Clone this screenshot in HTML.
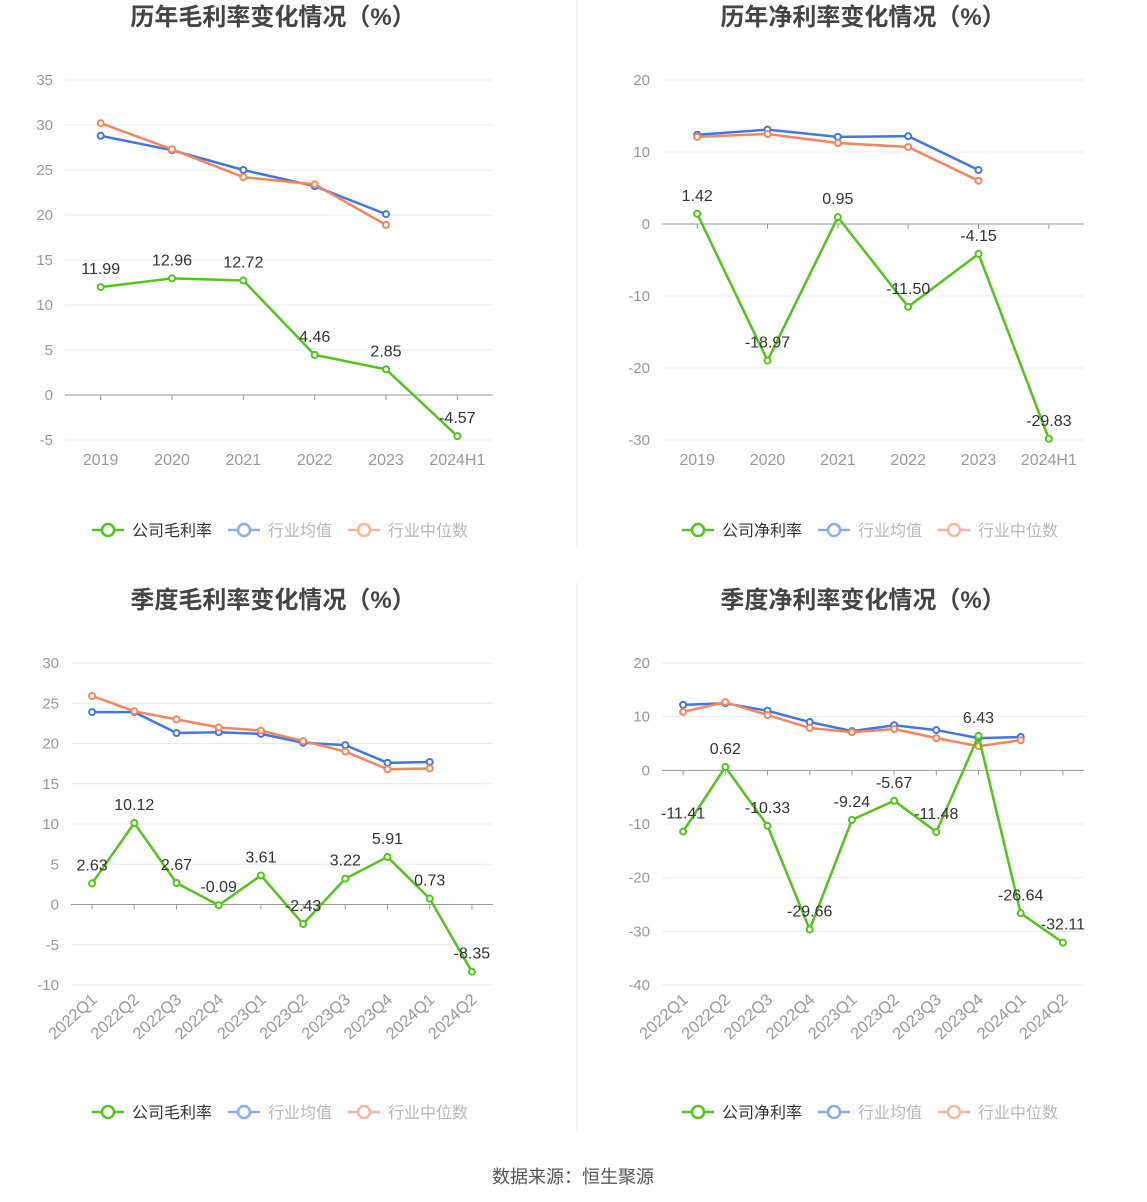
<!DOCTYPE html>
<html><head><meta charset="utf-8">
<style>
html,body{margin:0;padding:0;background:#fff;}
svg{display:block;font-family:"Liberation Sans","Noto Sans CJK SC",sans-serif;}
</style></head>
<body>
<svg id="root" width="1147" height="1202" viewBox="0 0 1147 1202" xmlns="http://www.w3.org/2000/svg">
<line x1="577" y1="0" x2="577" y2="548" stroke="#eeeeee"/>
<line x1="577" y1="582" x2="577" y2="1132" stroke="#eeeeee"/>
<text x="573" y="1183" text-anchor="middle" font-size="18" fill="#555">数据来源：恒生聚源</text>
</svg>
<script>
const annualCats = ["2019","2020","2021","2022","2023","2024H1"];
const quarterCats = ["2022Q1","2022Q2","2022Q3","2022Q4","2023Q1","2023Q2","2023Q3","2023Q4","2024Q1","2024Q2"];
const annualGrossCompany = [11.99,12.96,12.72,4.46,2.85,-4.57];
const annualGrossMean = [28.8,27.2,25.0,23.2,20.1];
const annualGrossMedian = [30.2,27.3,24.2,23.4,18.9];
const annualNetCompany = [1.42,-18.97,0.95,-11.50,-4.15,-29.83];
const annualNetMean = [12.4,13.1,12.1,12.2,7.5];
const annualNetMedian = [12.1,12.5,11.25,10.7,6.0];
const quarterGrossCompany = [2.63,10.12,2.67,-0.09,3.61,-2.43,3.22,5.91,0.73,-8.35];
const quarterGrossMean = [23.9,23.9,21.3,21.4,21.2,20.1,19.8,17.6,17.7];
const quarterGrossMedian = [25.9,24.0,23.0,22.0,21.6,20.3,19.0,16.8,16.9];
const quarterNetCompany = [-11.41,0.62,-10.33,-29.66,-9.24,-5.67,-11.48,6.43,-26.64,-32.11];
const quarterNetMean = [12.2,12.5,11.1,9.0,7.3,8.4,7.5,6.0,6.2];
const quarterNetMedian = [10.9,12.7,10.3,7.9,7.1,7.7,6.0,4.5,5.6];
const annualGrossTicks = [35,30,25,20,15,10,5,0,-5];
const annualNetTicks = [20,10,0,-10,-20,-30];
const quarterGrossTicks = [30,25,20,15,10,5,0,-5,-10];
const quarterNetTicks = [20,10,0,-10,-20,-30,-40];

const NS="http://www.w3.org/2000/svg";
const root=document.getElementById('root');
function mk(tag,attrs,parent){const e=document.createElementNS(NS,tag);for(const k in attrs)e.setAttribute(k,attrs[k]);(parent||root).appendChild(e);return e;}
const GREEN="#52c41a",BLUE="#3f77e6",ORANGE="#f7855a";

function chart(o){
  const g=mk('g',{});
  
  
  const t=mk('text',{x:o.cx,y:o.ty,'text-anchor':'middle','font-size':24,'font-weight':'bold',fill:'#444'},g);
  
  
  t.textContent=o.title;
  const ymax=o.ticks[0],ymin=o.ticks[o.ticks.length-1];
  const ys=v=>o.top+(ymax-v)/(ymax-ymin)*(o.bottom-o.top);
  const bw=(o.right-o.left)/o.cats.length;
  const xs=i=>o.left+bw*(i+0.5);
  o.ticks.forEach(v=>{
    if(v!==0){const l=mk('line',{x1:o.left,x2:o.right,y1:ys(v),y2:ys(v),stroke:'#e6e8f2'},g);
    
    }
    const tx=mk('text',{x:o.left-12,y:ys(v)+5,'text-anchor':'end','font-size':15,fill:'#999'},g);
    
    
    tx.textContent=v;
  });
  const z=mk('line',{x1:o.left,x2:o.right,y1:ys(0),y2:ys(0),stroke:'#999'},g);
  
  
  o.cats.forEach((c,i)=>{
    const tk=mk('line',{x1:xs(i),x2:xs(i),y1:ys(0),y2:ys(0)+5,stroke:'#999'},g);
    
    
    let tx;
    if(o.rotate){
      const ax=xs(i)+6,ay=o.bottom+16;
      tx=mk('text',{x:ax,y:ay,'text-anchor':'end','font-size':16.5,fill:'#999',transform:`rotate(-42 ${ax} ${ay})`},g);
    } else {
      tx=mk('text',{x:xs(i),y:o.bottom+25,'text-anchor':'middle','font-size':16,fill:'#999'},g);
    }
    
    
    tx.textContent=c;
  });
  function series(vals,color,nm,labels){
    const pts=vals.map((v,i)=>xs(i)+','+ys(v)).join(' ');
    const pl=mk('polyline',{points:pts,fill:'none',stroke:color,'stroke-width':2.5},g);
    
    
    vals.forEach((v,i)=>{
      const c=mk('circle',{cx:xs(i),cy:ys(v),r:3,fill:'#fff',stroke:color,'stroke-width':2},g);
      
      
      if(labels){
        const lt=mk('text',{x:xs(i),y:ys(v)-13,'text-anchor':'middle','font-size':16,fill:'#333'},g);
        
        
        lt.textContent=v.toFixed(2);
      }
    });
  }
  series(o.mean,BLUE,'industry-mean');
  series(o.median,ORANGE,'industry-median');
  series(o.company,GREEN,'company',true);
  const lx=o.legendX, ly=o.legendY;
  const leg=[[o.companyName,GREEN,'#333',1],['行业均值',BLUE,'#888',0.6],['行业中位数',ORANGE,'#888',0.6]];
  const offs=[0,136,256];
  leg.forEach((L,k)=>{
    const x0=lx+offs[k];
    const lg=mk('g',{opacity:L[3]},g);
    
    
    mk('line',{x1:x0,x2:x0+32,y1:ly,y2:ly,stroke:L[1],'stroke-width':2.5},lg);
    mk('circle',{cx:x0+16,cy:ly,r:6,fill:'#fff',stroke:L[1],'stroke-width':2.5},lg);
    const tt=mk('text',{x:x0+40,y:ly+6,'font-size':16,fill:L[2]},lg);
    tt.textContent=L[0];
  });
}
chart({name:'annual-gross-margin-chart',title:'历年毛利率变化情况（%）',cx:273,ty:25,left:65,right:493,top:80,bottom:440,cats:annualCats,ticks:annualGrossTicks,company:annualGrossCompany,mean:annualGrossMean,median:annualGrossMedian,companyName:'公司毛利率',legendX:92,legendY:530});
chart({name:'annual-net-margin-chart',title:'历年净利率变化情况（%）',cx:863,ty:25,left:662,right:1084,top:80,bottom:440,cats:annualCats,ticks:annualNetTicks,company:annualNetCompany,mean:annualNetMean,median:annualNetMedian,companyName:'公司净利率',legendX:682,legendY:530});
chart({name:'quarterly-gross-margin-chart',title:'季度毛利率变化情况（%）',cx:273,ty:608,left:71,right:493,top:663,bottom:985,cats:quarterCats,ticks:quarterGrossTicks,company:quarterGrossCompany,mean:quarterGrossMean,median:quarterGrossMedian,companyName:'公司毛利率',legendX:92,legendY:1112,rotate:true});
chart({name:'quarterly-net-margin-chart',title:'季度净利率变化情况（%）',cx:863,ty:608,left:662,right:1084,top:663,bottom:985,cats:quarterCats,ticks:quarterNetTicks,company:quarterNetCompany,mean:quarterNetMean,median:quarterNetMedian,companyName:'公司净利率',legendX:682,legendY:1112,rotate:true});
</script>
</body></html>
